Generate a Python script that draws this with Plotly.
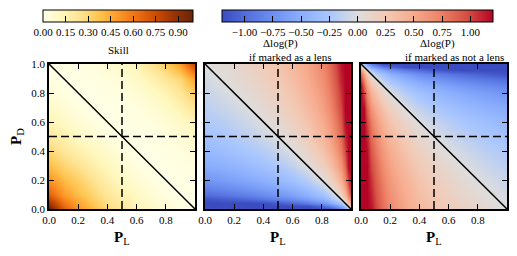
import plotly.graph_objects as go

# ---------------- data ----------------
# Skill panel grid (rows: P_D, cols: P_L)
skill_pl = [0.0, 0.1, 0.2, 0.3, 0.4, 0.5, 0.6, 0.7, 0.8, 0.9, 1.0]
skill_pd = [0.0, 0.1, 0.2, 0.3, 0.4, 0.5, 0.6, 0.7, 0.8, 0.9, 1.0]
skill_z = [
    [1.0, 0.68, 0.52, 0.40, 0.30, 0.22, 0.15, 0.09, 0.05, 0.02, 0.0],
    [0.68, 0.50, 0.40, 0.31, 0.23, 0.16, 0.10, 0.05, 0.02, 0.0, 0.003],
    [0.52, 0.40, 0.33, 0.25, 0.17, 0.10, 0.05, 0.02, 0.0, 0.002, 0.01],
    [0.40, 0.31, 0.25, 0.18, 0.12, 0.06, 0.02, 0.0, 0.0, 0.01, 0.025],
    [0.30, 0.23, 0.17, 0.12, 0.07, 0.03, 0.0, 0.0, 0.008, 0.025, 0.05],
    [0.22, 0.16, 0.10, 0.06, 0.03, 0.0, 0.002, 0.008, 0.02, 0.05, 0.09],
    [0.15, 0.10, 0.05, 0.02, 0.0, 0.002, 0.01, 0.02, 0.05, 0.09, 0.15],
    [0.09, 0.05, 0.02, 0.0, 0.0, 0.008, 0.02, 0.05, 0.09, 0.15, 0.24],
    [0.05, 0.02, 0.0, 0.0, 0.008, 0.02, 0.05, 0.09, 0.15, 0.23, 0.34],
    [0.02, 0.0, 0.002, 0.01, 0.025, 0.05, 0.09, 0.15, 0.23, 0.30, 0.48],
    [0.0, 0.003, 0.01, 0.025, 0.05, 0.09, 0.15, 0.24, 0.34, 0.48, 0.78],
]

# Delta log(P) if marked as a lens
lens_pl = [0.0, 0.1, 0.2, 0.3, 0.4, 0.5, 0.6, 0.7, 0.8, 0.85, 0.9, 0.93, 0.96, 0.98, 1.0]
lens_pd = [0.0, 0.02, 0.04, 0.07, 0.1, 0.15, 0.2, 0.3, 0.4, 0.5, 0.6, 0.7, 0.8, 0.9, 1.0]
lens_z = [
    [-1.2, -1.2, -1.2, -1.2, -1.2, -1.2, -1.2, -1.2, -1.2, -1.18, -1.0, -0.85, -0.6, -0.3, 0.0],
    [-1.2, -1.2, -1.2, -1.2, -1.2, -1.2, -1.2, -1.18, -1.0, -0.88, -0.7, -0.54, -0.3, 0.0, 0.3],
    [-1.2, -1.2, -1.2, -1.2, -1.18, -1.1, -1.0, -0.88, -0.7, -0.57, -0.4, -0.24, 0.0, 0.3, 0.6],
    [-1.16, -1.11, -1.06, -1.0, -0.93, -0.85, -0.76, -0.63, -0.46, -0.33, -0.16, 0.0, 0.24, 0.54, 0.85],
    [-1.0, -0.95, -0.9, -0.85, -0.78, -0.7, -0.6, -0.48, -0.3, -0.18, 0.0, 0.16, 0.4, 0.7, 1.0],
    [-0.82, -0.78, -0.73, -0.67, -0.6, -0.52, -0.43, -0.3, -0.13, 0.0, 0.18, 0.33, 0.57, 0.88, 1.18],
    [-0.7, -0.65, -0.6, -0.54, -0.48, -0.4, -0.3, -0.18, 0.0, 0.13, 0.3, 0.46, 0.7, 1.0, 1.2],
    [-0.52, -0.48, -0.43, -0.37, -0.3, -0.22, -0.13, 0.0, 0.18, 0.3, 0.48, 0.63, 0.88, 1.18, 1.2],
    [-0.4, -0.35, -0.3, -0.24, -0.18, -0.1, 0.0, 0.13, 0.3, 0.43, 0.6, 0.76, 1.0, 1.2, 1.2],
    [-0.3, -0.26, -0.2, -0.15, -0.08, 0.0, 0.1, 0.22, 0.4, 0.52, 0.7, 0.85, 1.1, 1.2, 1.2],
    [-0.22, -0.18, -0.13, -0.07, 0.0, 0.08, 0.18, 0.3, 0.48, 0.6, 0.78, 0.93, 1.18, 1.2, 1.2],
    [-0.16, -0.11, -0.06, 0.0, 0.07, 0.15, 0.24, 0.37, 0.54, 0.67, 0.85, 1.0, 1.2, 1.2, 1.2],
    [-0.1, -0.05, 0.0, 0.06, 0.13, 0.2, 0.3, 0.43, 0.6, 0.73, 0.9, 1.06, 1.2, 1.2, 1.2],
    [-0.05, 0.0, 0.05, 0.11, 0.18, 0.26, 0.35, 0.48, 0.65, 0.78, 0.95, 1.11, 1.2, 1.2, 1.2],
    [0.0, 0.05, 0.1, 0.16, 0.22, 0.3, 0.4, 0.52, 0.7, 0.82, 1.0, 1.16, 1.2, 1.2, 1.2],
]

# Delta log(P) if marked as not a lens
notlens_pl = [0.0, 0.02, 0.04, 0.07, 0.1, 0.15, 0.2, 0.3, 0.4, 0.5, 0.6, 0.7, 0.8, 0.9, 1.0]
notlens_pd = [0.0, 0.1, 0.2, 0.3, 0.4, 0.5, 0.6, 0.7, 0.8, 0.85, 0.9, 0.93, 0.96, 0.98, 1.0]
notlens_z = [
    [1.2, 1.2, 1.2, 1.16, 1.0, 0.82, 0.7, 0.52, 0.4, 0.3, 0.22, 0.16, 0.1, 0.05, 0.0],
    [1.2, 1.2, 1.2, 1.11, 0.95, 0.78, 0.65, 0.48, 0.35, 0.26, 0.18, 0.11, 0.05, 0.0, -0.05],
    [1.2, 1.2, 1.2, 1.06, 0.9, 0.73, 0.6, 0.43, 0.3, 0.2, 0.13, 0.06, 0.0, -0.05, -0.1],
    [1.2, 1.2, 1.2, 1.0, 0.85, 0.67, 0.54, 0.37, 0.24, 0.15, 0.07, 0.0, -0.06, -0.11, -0.16],
    [1.2, 1.2, 1.18, 0.93, 0.78, 0.6, 0.48, 0.3, 0.18, 0.08, 0.0, -0.07, -0.13, -0.18, -0.22],
    [1.2, 1.2, 1.1, 0.85, 0.7, 0.52, 0.4, 0.22, 0.1, 0.0, -0.08, -0.15, -0.2, -0.26, -0.3],
    [1.2, 1.2, 1.0, 0.76, 0.6, 0.43, 0.3, 0.13, 0.0, -0.1, -0.18, -0.24, -0.3, -0.35, -0.4],
    [1.2, 1.18, 0.88, 0.63, 0.48, 0.3, 0.18, 0.0, -0.13, -0.22, -0.3, -0.37, -0.43, -0.48, -0.52],
    [1.2, 1.0, 0.7, 0.46, 0.3, 0.13, 0.0, -0.18, -0.3, -0.4, -0.48, -0.54, -0.6, -0.65, -0.7],
    [1.18, 0.88, 0.57, 0.33, 0.18, 0.0, -0.13, -0.3, -0.43, -0.52, -0.6, -0.67, -0.73, -0.78, -0.82],
    [1.0, 0.7, 0.4, 0.16, 0.0, -0.18, -0.3, -0.48, -0.6, -0.7, -0.78, -0.85, -0.9, -0.95, -1.0],
    [0.85, 0.54, 0.24, 0.0, -0.16, -0.33, -0.46, -0.63, -0.76, -0.85, -0.93, -1.0, -1.06, -1.11, -1.16],
    [0.6, 0.3, 0.0, -0.24, -0.4, -0.57, -0.7, -0.88, -1.0, -1.1, -1.18, -1.2, -1.2, -1.2, -1.2],
    [0.3, 0.0, -0.3, -0.54, -0.7, -0.88, -1.0, -1.18, -1.2, -1.2, -1.2, -1.2, -1.2, -1.2, -1.2],
    [0.0, -0.3, -0.6, -0.85, -1.0, -1.18, -1.2, -1.2, -1.2, -1.2, -1.2, -1.2, -1.2, -1.2, -1.2],
]

# reference lines
diag_x = [0.0, 1.0]
diag_y = [1.0, 0.0]
half = 0.5
unit = [0.0, 1.0]

# ticks
axis_ticks = [0.0, 0.2, 0.4, 0.6, 0.8]
y_ticks = [0.0, 0.2, 0.4, 0.6, 0.8, 1.0]
skill_cb_ticks = [0.0, 0.15, 0.30, 0.45, 0.60, 0.75, 0.90]
dlog_cb_ticks = [-1.0, -0.75, -0.5, -0.25, 0.0, 0.25, 0.5, 0.75, 1.0]

# ---------------- styling ----------------
FONT = "Liberation Serif"
ylorbr = [[0.0, "#ffffe5"], [0.125, "#fff7bc"], [0.25, "#fee391"], [0.375, "#fec44f"],
          [0.5, "#fe9929"], [0.625, "#ec7014"], [0.75, "#cc4c02"], [0.875, "#993404"],
          [1.0, "#662506"]]
coolwarm = [[0.0, "#3b4cc0"], [0.1, "#5572df"], [0.2, "#7093f3"], [0.3, "#8db0fe"],
            [0.4, "#aac7fd"], [0.5, "#dddddd"], [0.6, "#f2cbb7"], [0.7, "#f7ad90"],
            [0.8, "#ee8569"], [0.9, "#d65244"], [1.0, "#b40426"]]

# page body has an 8px margin: size the figure so it fills the 517x256 window
OFF = 8
W, H = 517 - OFF, 256 - OFF


def px_x(p):
    return (p - OFF) / W


def px_y(p):
    return (H - (p - OFF)) / H


def fmt(v, d):
    s = f"{abs(v):.{d}f}"
    return ("\u2212" + s) if v < 0 else s


fig = go.Figure()

cb_common = dict(orientation="h", xanchor="left", yanchor="top", y=px_y(10),
                 thickness=12, xpad=0, ypad=0, outlinewidth=1, outlinecolor="black",
                 ticks="inside", ticklen=6, tickwidth=1, tickcolor="black",
                 tickfont=dict(family=FONT, size=11, color="black"), lenmode="fraction")

fig.add_trace(go.Heatmap(
    x=skill_pl, y=skill_pd, z=skill_z, zsmooth="best", colorscale=ylorbr,
    zmin=0.0, zmax=1.0, xaxis="x", yaxis="y", hoverinfo="skip",
    colorbar=dict(cb_common, x=px_x(43), len=150 / W,
                  tickvals=skill_cb_ticks, ticktext=[fmt(v, 2) for v in skill_cb_ticks])))

fig.add_trace(go.Heatmap(
    x=lens_pl, y=lens_pd, z=lens_z, zsmooth="best", colorscale=coolwarm,
    zmin=-1.2, zmax=1.2, xaxis="x2", yaxis="y2", hoverinfo="skip",
    colorbar=dict(cb_common, x=px_x(222), len=271 / W,
                  tickvals=dlog_cb_ticks, ticktext=[fmt(v, 2) for v in dlog_cb_ticks])))

fig.add_trace(go.Heatmap(
    x=notlens_pl, y=notlens_pd, z=notlens_z, zsmooth="best", colorscale=coolwarm,
    zmin=-1.2, zmax=1.2, xaxis="x3", yaxis="y3", hoverinfo="skip", showscale=False))

for i in ["", "2", "3"]:
    fig.add_trace(go.Scatter(x=diag_x, y=diag_y, mode="lines", xaxis="x" + i, yaxis="y" + i,
                             line=dict(color="black", width=1.5), hoverinfo="skip", showlegend=False))
    fig.add_trace(go.Scatter(x=[half, half], y=unit, mode="lines", xaxis="x" + i, yaxis="y" + i,
                             line=dict(color="black", width=1.5, dash="8px,4px"),
                             hoverinfo="skip", showlegend=False))
    fig.add_trace(go.Scatter(x=unit, y=[half, half], mode="lines", xaxis="x" + i, yaxis="y" + i,
                             line=dict(color="black", width=1.5, dash="8px,4px"),
                             hoverinfo="skip", showlegend=False))

domains = [(px_x(49), px_x(195)), (px_x(205), px_x(351)), (px_x(361), px_x(507))]
ydom = [px_y(209), px_y(64)]
layout = dict(width=W, height=H, margin=dict(l=0, r=0, t=0, b=0, autoexpand=False),
              paper_bgcolor="white", plot_bgcolor="white", showlegend=False,
              font=dict(family=FONT, size=11, color="black"))
for k, (i, dom) in enumerate(zip(["", "2", "3"], domains)):
    layout["xaxis" + i] = dict(domain=list(dom), range=[0, 1], anchor="y" + i,
                               tickvals=axis_ticks, ticktext=[fmt(v, 1) for v in axis_ticks],
                               ticks="inside", ticklen=5, tickwidth=1, tickcolor="black",
                               showline=True, linecolor="black", linewidth=1.5, mirror="ticks",
                               showgrid=False, zeroline=False, automargin=False,
                               tickfont=dict(family=FONT, size=11, color="black"))
    layout["yaxis" + i] = dict(domain=ydom, range=[0, 1], anchor="x" + i,
                               tickvals=y_ticks, ticktext=[fmt(v, 1) for v in y_ticks],
                               showticklabels=(k == 0), automargin=False,
                               ticks="inside", ticklen=5, tickwidth=1, tickcolor="black",
                               showline=True, linecolor="black", linewidth=1.5, mirror="ticks",
                               showgrid=False, zeroline=False,
                               tickfont=dict(family=FONT, size=11, color="black"))


def note(x, y, text, size, angle=0):
    return dict(x=px_x(x), y=px_y(y), xref="paper", yref="paper", showarrow=False,
                xanchor="center", yanchor="middle", textangle=angle, text=text,
                font=dict(family=FONT, size=size, color="black"))


ann = []
for cx in [122, 278, 434]:
    ann.append(note(cx, 238, "<b>P</b><sub>L</sub>", 15))
ann.append(note(17, 137, "<b>P</b><sub>D</sub>", 15, -90))
ann.append(note(118, 50, "Skill", 11))
for cx1, cx2, txt in [(280, 290, "if marked as a lens"), (437, 454, "if marked as not a lens")]:
    ann.append(note(cx1, 44, "\u0394log(P)", 11))
    ann.append(note(cx2, 57, txt, 11))
layout["annotations"] = ann

fig.update_layout(**layout)
fig.write_html("out.html")
